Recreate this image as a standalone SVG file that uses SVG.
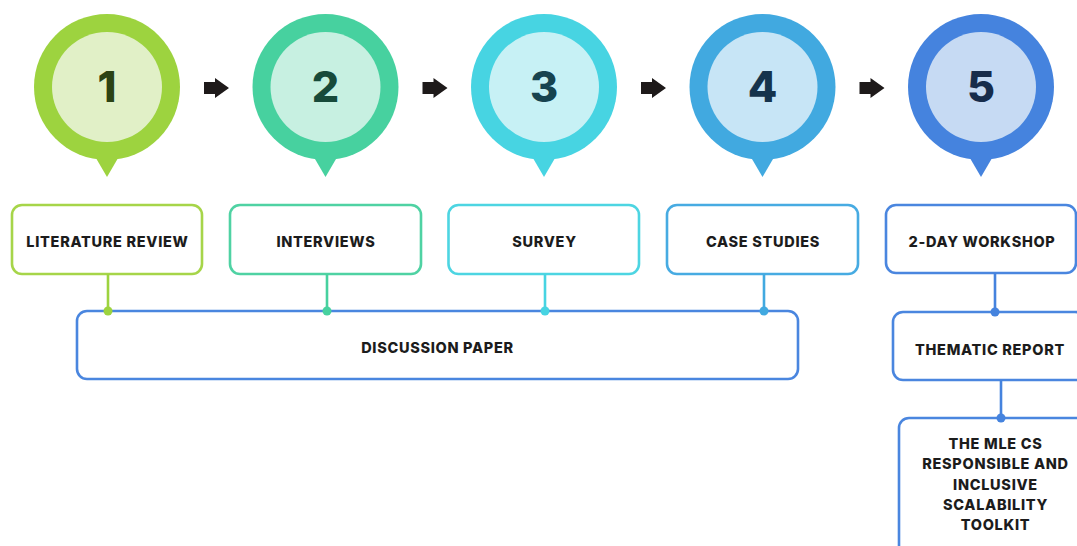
<svg xmlns="http://www.w3.org/2000/svg" width="1077" height="546" viewBox="0 0 1077 546">
  <style>
    .lbl { font-family: Inter, "Liberation Sans", sans-serif; font-weight: 800; font-size: 14.5px; letter-spacing: 0.7px; fill: #1c1c1c; text-anchor: middle; }
    .num { font-family: Inter, "Liberation Sans", sans-serif; font-weight: 800; font-size: 43px; text-anchor: middle; }
    .box { fill: #ffffff; stroke-width: 2.6; }
    .wire { fill: none; stroke-width: 2.6; }
  </style>
  <defs>
    <!-- pin shape: downward pointer below the outer circle, centred on 0,0 -->
    <path id="pin" d="M -14,66 L 0,90 L 14,66 Z"/>
    <path id="step-arrow" d="M 0,-6 L 11,-6 L 11,-10 L 25,0 L 11,10 L 11,6 L 0,6 Z" fill="#1e1a1a"/>
  </defs>

  <rect width="1077" height="546" fill="#ffffff"/>

  <!-- step markers -->
  <g id="step1" transform="translate(107,87)">
    <circle r="73" fill="#9dd33f"/>
    <use href="#pin" fill="#9dd33f"/>
    <circle r="55" fill="#e1f0c7"/>
    <text class="num" y="15" fill="#2c4314">1</text>
  </g>
  <g id="step2" transform="translate(325.5,87)">
    <circle r="73" fill="#47d19f"/>
    <use href="#pin" fill="#47d19f"/>
    <circle r="55" fill="#c7f0e1"/>
    <text class="num" y="15" fill="#174a3a">2</text>
  </g>
  <g id="step3" transform="translate(544,87)">
    <circle r="73" fill="#47d4e2"/>
    <use href="#pin" fill="#47d4e2"/>
    <circle r="55" fill="#c7f1f5"/>
    <text class="num" y="15" fill="#17434f">3</text>
  </g>
  <g id="step4" transform="translate(762.5,87)">
    <circle r="73" fill="#41a9e0"/>
    <use href="#pin" fill="#41a9e0"/>
    <circle r="55" fill="#c7e5f6"/>
    <text class="num" y="15" fill="#15334c">4</text>
  </g>
  <g id="step5" transform="translate(981,87)">
    <circle r="73" fill="#4583de"/>
    <use href="#pin" fill="#4583de"/>
    <circle r="55" fill="#c6daf3"/>
    <text class="num" y="15" fill="#172c4b">5</text>
  </g>

  <!-- arrows between steps -->
  <g id="step-arrows">
    <use href="#step-arrow" x="204" y="88"/>
    <use href="#step-arrow" x="422.5" y="88"/>
    <use href="#step-arrow" x="641" y="88"/>
    <use href="#step-arrow" x="859.5" y="88"/>
  </g>

  <!-- method boxes -->
  <g id="literature-review">
    <rect class="box" x="12" y="205" width="190" height="69" rx="10" stroke="#a6d549"/>
    <text class="lbl" x="107.5" y="247">LITERATURE REVIEW</text>
  </g>
  <g id="interviews">
    <rect class="box" x="230" y="205" width="191" height="69" rx="10" stroke="#4fd2a3"/>
    <text class="lbl" x="326" y="247">INTERVIEWS</text>
  </g>
  <g id="survey">
    <rect class="box" x="448.5" y="205" width="190.5" height="69" rx="10" stroke="#4dd5e2"/>
    <text class="lbl" x="544.5" y="247">SURVEY</text>
  </g>
  <g id="case-studies">
    <rect class="box" x="667" y="205" width="191" height="69" rx="10" stroke="#47abe2"/>
    <text class="lbl" x="763" y="247">CASE STUDIES</text>
  </g>
  <g id="workshop">
    <rect class="box" x="886" y="205" width="190" height="68" rx="10" stroke="#4a86df"/>
    <text class="lbl" x="982" y="247">2-DAY WORKSHOP</text>
  </g>

  <!-- outputs -->
  <g id="discussion-paper">
    <rect class="box" x="77" y="311" width="721" height="68" rx="10" stroke="#4a86df"/>
    <text class="lbl" x="437.5" y="353">DISCUSSION PAPER</text>
  </g>
  <g id="thematic-report">
    <rect class="box" x="893" y="312" width="192" height="68" rx="10" stroke="#4a86df"/>
    <text class="lbl" x="990" y="355">THEMATIC REPORT</text>
  </g>
  <g id="toolkit">
    <rect class="box" x="899" y="418" width="192" height="150" rx="10" stroke="#4a86df"/>
    <text class="lbl" x="995.5" y="449">THE MLE CS</text>
    <text class="lbl" x="995.5" y="469.3">RESPONSIBLE AND</text>
    <text class="lbl" x="995.5" y="489.6">INCLUSIVE</text>
    <text class="lbl" x="995.5" y="510">SCALABILITY</text>
    <text class="lbl" x="995.5" y="530.3">TOOLKIT</text>
  </g>

  <!-- connectors -->
  <g id="connectors">
    <line class="wire" x1="108" y1="274" x2="108" y2="311" stroke="#9dd33f"/>
    <circle cx="108" cy="311" r="4.5" fill="#9dd33f"/>
    <line class="wire" x1="327" y1="274" x2="327" y2="311" stroke="#47d19f"/>
    <circle cx="327" cy="311" r="4.5" fill="#47d19f"/>
    <line class="wire" x1="545" y1="274" x2="545" y2="311" stroke="#47d4e2"/>
    <circle cx="545" cy="311" r="4.5" fill="#47d4e2"/>
    <line class="wire" x1="764" y1="274" x2="764" y2="311" stroke="#41a9e0"/>
    <circle cx="764" cy="311" r="4.5" fill="#41a9e0"/>
    <line class="wire" x1="995" y1="273" x2="995" y2="312" stroke="#4583de"/>
    <circle cx="995" cy="312" r="4.5" fill="#4583de"/>
    <line class="wire" x1="1001" y1="380" x2="1001" y2="418" stroke="#4583de"/>
    <circle cx="1001" cy="418" r="4.5" fill="#4583de"/>
  </g>
</svg>
